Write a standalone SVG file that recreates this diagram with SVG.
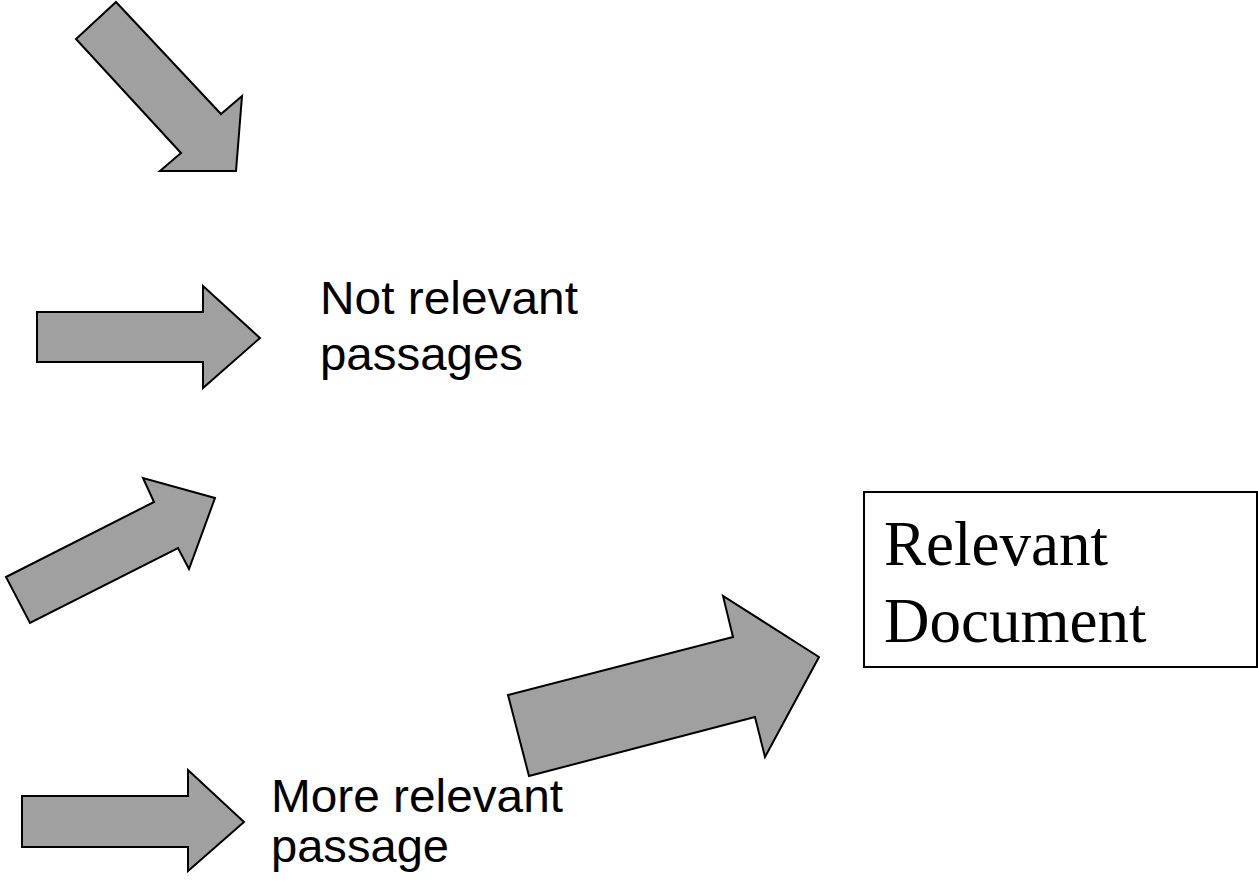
<svg xmlns="http://www.w3.org/2000/svg" width="1258" height="885" viewBox="0 0 1258 885">
<style>
.arrow{fill:#a0a0a0;stroke:#000;stroke-width:2;stroke-linejoin:miter}
.sans{font-family:"Liberation Sans",Arial,sans-serif;font-size:46px;fill:#000}
.serif{font-family:"Liberation Serif","Times New Roman",serif;font-size:63px;fill:#000}
.box{fill:#fff;stroke:#000;stroke-width:2}
</style>
<rect width="1258" height="885" fill="#fff"/>
<g id="connectors">
<polygon id="arrow1" class="arrow" points="116,2 221,114 242,96 236,171 160,171 181,153 76,39"/>
<polygon id="arrow2" class="arrow" points="37,312 203,312 203,286 260,338 203,388 203,362 37,362"/>
<polygon id="arrow3" class="arrow" points="6,577 154,502 143,478 215,498 189,569 178,548 30,623"/>
<polygon id="arrow4" class="arrow" points="508,695 733,637 723,596 819,657 765,757 755,717 529,776"/>
<polygon id="arrow5" class="arrow" points="22,796 188,796 188,770 244,822 188,871 188,847 22,847"/>
</g>
<g id="label-not-relevant">
<text class="sans" x="320" y="314" textLength="258" lengthAdjust="spacingAndGlyphs">Not relevant</text>
<text class="sans" x="320" y="370" textLength="203" lengthAdjust="spacingAndGlyphs">passages</text>
</g>
<g id="label-more-relevant">
<text class="sans" x="271" y="812" textLength="292" lengthAdjust="spacingAndGlyphs">More relevant</text>
<text class="sans" x="271" y="862" textLength="178" lengthAdjust="spacingAndGlyphs">passage</text>
</g>
<g id="node-relevant-document">
<rect class="box" x="864" y="492" width="393" height="175"/>
<text class="serif" x="884" y="565">Relevant</text>
<text class="serif" x="884" y="642">Document</text>
</g>
</svg>
